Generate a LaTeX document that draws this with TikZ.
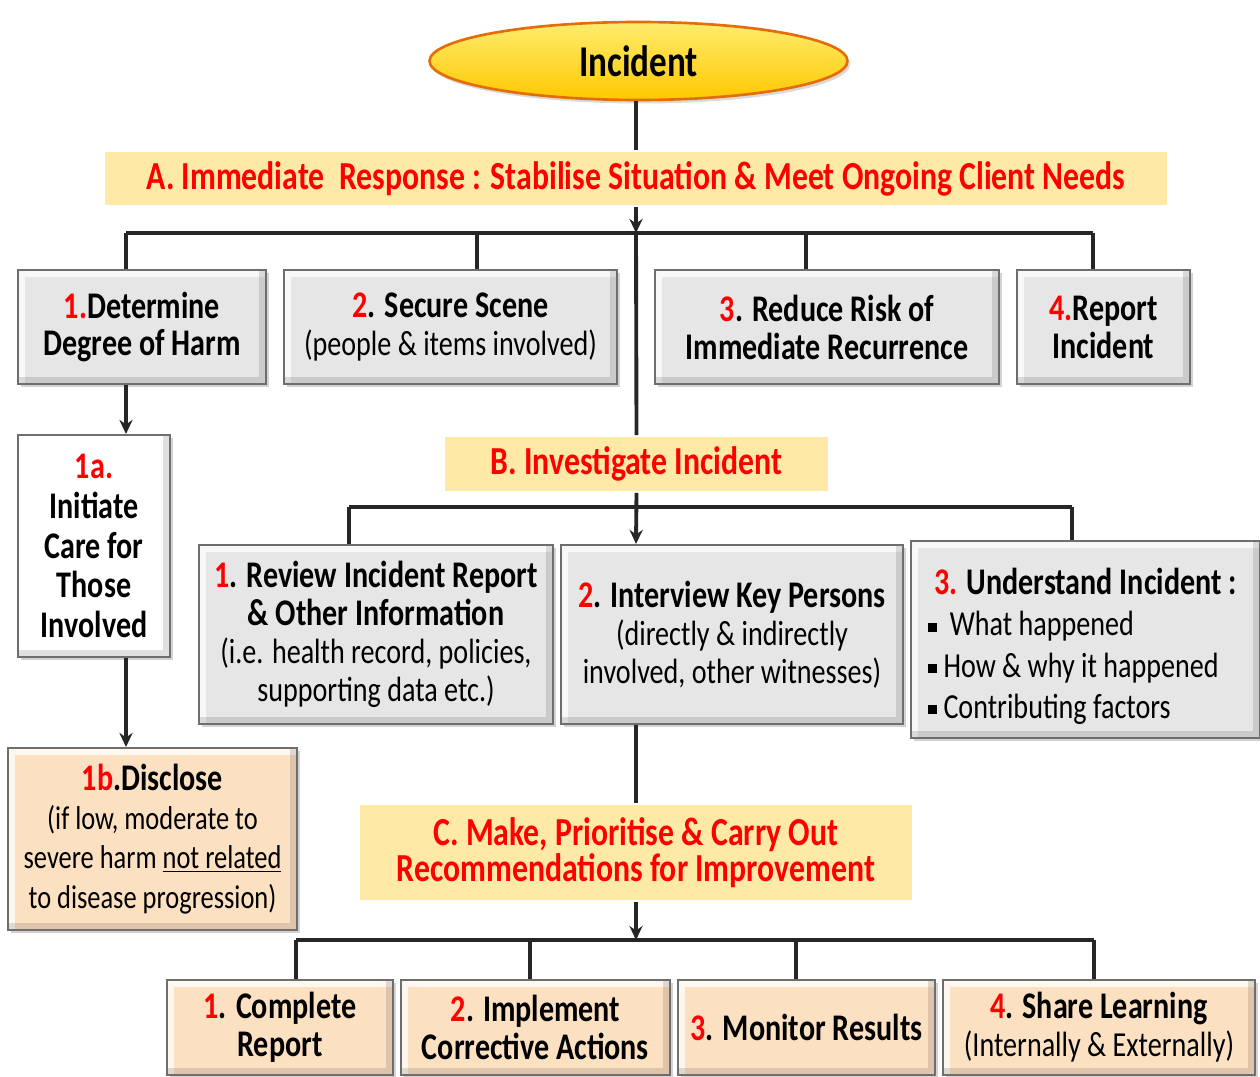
\documentclass[tikz,border=0pt]{standalone}
\usepackage{fontspec}
\setmainfont{Carlito}[FakeStretch=0.8]
\usetikzlibrary{arrows.meta,shapes.geometric,shadows}

\definecolor{boxgray}{RGB}{230,230,230}
\definecolor{peach}{RGB}{252,224,194}
\definecolor{bannerfill}{RGB}{255,233,166}
\definecolor{incred}{RGB}{255,0,0}
\definecolor{wire}{RGB}{38,38,38}
\definecolor{rim}{RGB}{110,110,110}
\definecolor{goldtop}{RGB}{255,236,110}
\definecolor{goldbot}{RGB}{255,200,0}
\definecolor{rimorange}{RGB}{228,108,10}

\newcommand{\rnum}[1]{\textcolor{incred}{#1}}
\newcommand{\lighttext}{\fontsize{20}{21.6}\selectfont\mdseries}
\newcommand{\sqbullet}{\rule[0.12em]{0.26em}{0.26em}}

\begin{document}
\begin{tikzpicture}[>={Stealth[length=8pt,width=7.5pt]}, line width=2.2pt, draw=wire,
    font=\fontsize{21.4}{21.6}\selectfont\bfseries,
    stage/.style={draw=rim, line width=1.2pt, fill=boxgray, align=center, inner sep=2pt,
        drop shadow={opacity=0.35, shadow xshift=0.06cm, shadow yshift=-0.06cm},
        path picture={
            \draw[white, line width=8pt, opacity=0.75] (path picture bounding box.south west) |- (path picture bounding box.north east);
            \draw[black, line width=8pt, opacity=0.12] (path picture bounding box.south west) -| (path picture bounding box.north east);
        }},
    outcome/.style={stage, fill=peach},
    phase/.style={fill=bannerfill, text=incred, align=center, inner sep=0pt,
        font=\fontsize{22.6}{20.5}\selectfont\bfseries}]
    \useasboundingbox (0,0) rectangle (25.2,-21.54);
    % top of the chart
    \node[ellipse, draw=rimorange, line width=1.5pt, top color=goldtop, bottom color=goldbot, minimum width=8.36cm, minimum height=1.56cm, inner sep=0pt, font=\fontsize{25}{27}\selectfont\bfseries, drop shadow={opacity=0.3, shadow xshift=0.05cm, shadow yshift=-0.07cm}] (incident) at (12.77,-1.22) {Incident};
    \node[phase, minimum width=21.24cm, minimum height=1.06cm] (respond) at (12.72,-3.57) {A. Immediate\ \ Response : Stabilise Situation \& Meet Ongoing Client Needs};
    \node[stage, minimum width=4.96cm, minimum height=2.28cm] (harm) at (2.84,-6.54) {\rnum{1.}Determine\\Degree of Harm};
    \node[stage, minimum width=6.66cm, minimum height=2.28cm] (secure) at (9.01,-6.54) {\rnum{2}. Secure Scene\\\lighttext (people \& items involved)};
    \node[stage, minimum width=6.88cm, minimum height=2.28cm] (reduce) at (16.54,-6.54) {\rnum{3}. Reduce Risk of\\Immediate Recurrence};
    \node[stage, minimum width=3.46cm, minimum height=2.28cm] (report) at (22.07,-6.54) {\rnum{4.}Report\\Incident};
    \node[stage, fill=white, minimum width=3.04cm, minimum height=4.44cm, font=\fontsize{21.4}{22.6}\selectfont\bfseries] (care) at (1.88,-10.92) {\rnum{1a.}\\Initiate\\Care for\\Those\\Involved};
    \node[outcome, minimum width=5.78cm, minimum height=3.64cm, font=\fontsize{21.4}{22.3}\selectfont\bfseries] (disclose) at (3.05,-16.78) {\rnum{1b}.Disclose\\\fontsize{18.8}{22.3}\selectfont\mdseries (if low, moderate to\\\fontsize{18.8}{22.3}\selectfont\mdseries severe harm \underline{not related}\\\fontsize{18.8}{22.3}\selectfont\mdseries to disease progression)};
    % investigation
    \node[phase, minimum width=7.66cm, minimum height=1.08cm] (investigate) at (12.73,-9.28) {B. Investigate Incident};
    \node[stage, minimum width=7.08cm, minimum height=3.58cm] (review) at (7.52,-12.69) {\rnum{1}. Review Incident Report\\\& Other Information\\\lighttext (i.e. health record, policies,\\\lighttext supporting data etc.)};
    \node[stage, minimum width=6.84cm, minimum height=3.58cm] (interview) at (14.64,-12.69) {\rnum{2}. Interview Key Persons\\\lighttext (directly \& indirectly\\\lighttext involved, other witnesses)};
    \node[stage, minimum width=6.98cm, minimum height=3.94cm, align=left, font=\fontsize{21.4}{23.4}\selectfont\bfseries] (understand) at (21.71,-12.79) {\rule{0pt}{0.8cm}\makebox[6.3cm]{\rnum{3.} Understand Incident :}\\\lighttext\sqbullet\ \ What happened\\\lighttext\sqbullet\ How \& why it happened\\\lighttext\sqbullet\ Contributing factors};
    % improvement
    \node[phase, minimum width=11.04cm, minimum height=1.9cm] (improve) at (12.72,-17.05) {C. Make, Prioritise \& Carry Out\\Recommendations for Improvement};
    \node[outcome, minimum width=4.52cm, minimum height=1.9cm] (complete) at (5.6,-20.55) {\rnum{1}. Complete\\Report};
    \node[outcome, minimum width=5.38cm, minimum height=1.9cm] (implement) at (10.71,-20.55) {\rnum{2}. Implement\\Corrective Actions};
    \node[outcome, minimum width=5.14cm, minimum height=1.9cm] (monitor) at (16.13,-20.55) {\rnum{3}. Monitor Results};
    \node[outcome, minimum width=6.24cm, minimum height=1.9cm] (share) at (21.98,-20.55) {\rnum{4}. Share Learning\\\lighttext (Internally \& Externally)};
    % junctions on the three bars
    \coordinate (jA1) at (2.52,-4.66);
    \coordinate (jA2) at (9.54,-4.66);
    \coordinate (jAmid) at (12.72,-4.66);
    \coordinate (jA3) at (16.12,-4.66);
    \coordinate (jA4) at (21.86,-4.66);
    \coordinate (jB1) at (6.98,-10.14);
    \coordinate (jBmid) at (12.72,-10.14);
    \coordinate (jB3) at (21.44,-10.14);
    \coordinate (jC1) at (5.92,-18.8);
    \coordinate (jC2) at (10.6,-18.8);
    \coordinate (jCmid) at (12.72,-18.8);
    \coordinate (jC3) at (15.92,-18.8);
    \coordinate (jC4) at (21.88,-18.8);
    % trunk
    \draw (jAmid |- incident.south) -- (respond.north);
    \draw[->] (respond.south) -- (jAmid);
    \draw (jAmid) -- (investigate.north);
    \draw[->] (investigate.south) -- (jBmid |- interview.north);
    \draw (jBmid |- interview.south) -- (improve.north);
    \draw[->] (improve.south) -- (jCmid);
    % bars and drops
    \draw (jA1) -- (jA4);
    \draw (jA1) -- (jA1 |- harm.north);
    \draw (jA2) -- (jA2 |- secure.north);
    \draw (jA3) -- (jA3 |- reduce.north);
    \draw (jA4) -- (jA4 |- report.north);
    \draw[->] (jA1 |- harm.south) -- (jA1 |- care.north);
    \draw[->] (jA1 |- care.south) -- (jA1 |- disclose.north);
    \draw (jB1) -- (jB3);
    \draw (jB1) -- (jB1 |- review.north);
    \draw (jB3) -- (jB3 |- understand.north);
    \draw (jC1) -- (jC4);
    \draw (jC1) -- (jC1 |- complete.north);
    \draw (jC2) -- (jC2 |- implement.north);
    \draw (jC3) -- (jC3 |- monitor.north);
    \draw (jC4) -- (jC4 |- share.north);
\end{tikzpicture}
\end{document}
